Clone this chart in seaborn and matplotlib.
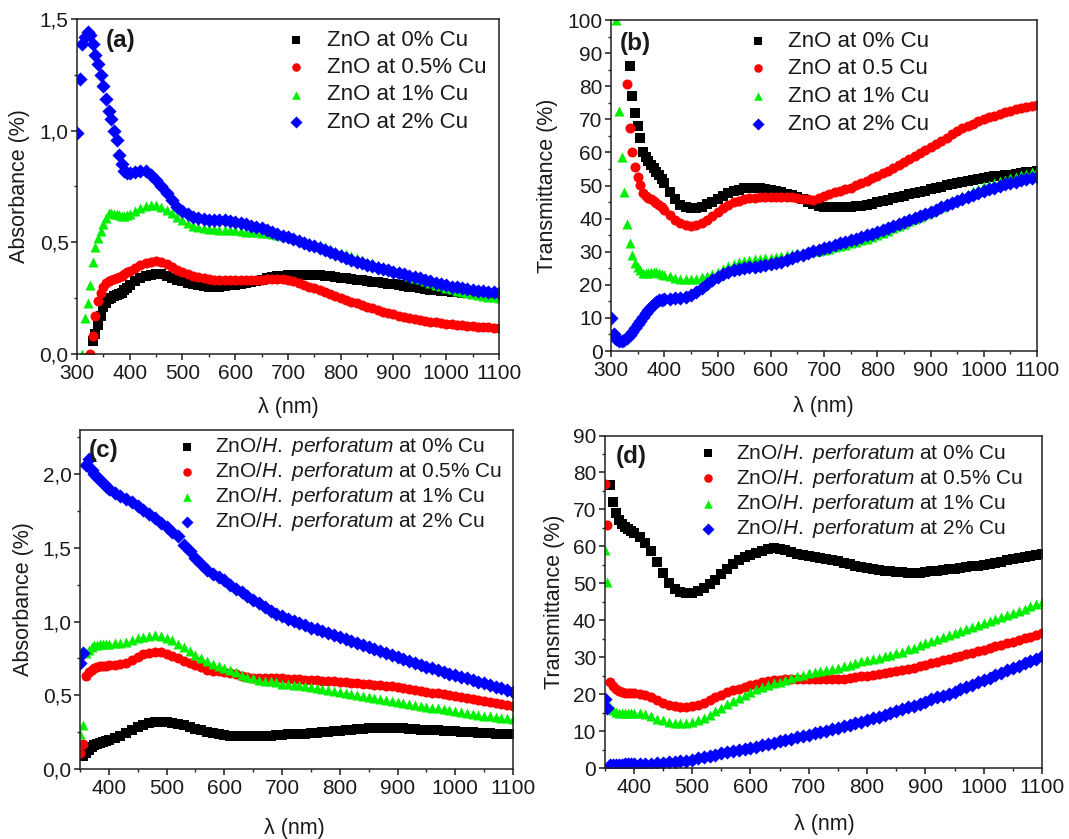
import numpy as np
import pandas as pd
import matplotlib
matplotlib.use("Agg")
import matplotlib.pyplot as plt
from matplotlib.ticker import MultipleLocator, FuncFormatter
import seaborn as sns

sns.set_theme(style="ticks")
plt.rcParams['font.family'] = ['Liberation Sans', 'DejaVu Sans']
plt.rcParams['mathtext.fontset'] = 'custom'
plt.rcParams['mathtext.rm'] = 'Liberation Sans'
plt.rcParams['mathtext.it'] = 'Liberation Sans:italic'

nan = np.nan

# -------------------------------
# Wavelength grids (nm)
# -------------------------------
wl_ab = list(range(300, 401, 5)) + list(range(410, 1101, 10))
wl_cd = list(range(350, 401, 5)) + list(range(410, 1101, 10))

# -------------------------------
# (a) Absorbance, ZnO
# -------------------------------
abs_a_0 = [nan, nan, nan, nan, nan, nan, 0.06, 0.09, 0.13, 0.17, 0.21, 0.23, 0.245, 0.252, 0.258, 0.263, 0.268, 0.275, 0.285, 0.297, 0.308,
           0.325, 0.338, 0.348, 0.355, 0.358, 0.356, 0.35, 0.342, 0.333, 0.325,
           0.318, 0.312, 0.307, 0.304, 0.302, 0.301, 0.302, 0.304, 0.307, 0.31,
           0.314, 0.318, 0.323, 0.328, 0.333, 0.338, 0.343, 0.347, 0.35, 0.352,
           0.353, 0.354, 0.354, 0.354, 0.353, 0.352, 0.35, 0.348, 0.345, 0.342,
           0.339, 0.336, 0.333, 0.33, 0.327, 0.324, 0.321, 0.318, 0.315, 0.312,
           0.309, 0.306, 0.302, 0.298, 0.294, 0.291, 0.288, 0.285, 0.282, 0.28,
           0.278, 0.276, 0.274, 0.272, 0.27, 0.268, 0.266, 0.265, 0.263, 0.262]
abs_a_05 = [nan, nan, nan, nan, nan, 0.0, 0.08, 0.17, 0.235, 0.275, 0.30, 0.318, 0.328, 0.333, 0.336, 0.34, 0.344, 0.349, 0.356, 0.365, 0.373,
            0.385, 0.397, 0.407, 0.414, 0.416, 0.412, 0.404, 0.39, 0.377, 0.366,
            0.357, 0.35, 0.344, 0.34, 0.336, 0.333, 0.331, 0.33, 0.33, 0.33,
            0.33, 0.33, 0.331, 0.332, 0.333, 0.334, 0.335, 0.337, 0.337, 0.333,
            0.326, 0.318, 0.31, 0.302, 0.294, 0.285, 0.276, 0.267, 0.258, 0.25,
            0.242, 0.234, 0.226, 0.218, 0.211, 0.204, 0.197, 0.19, 0.184, 0.178,
            0.172, 0.167, 0.162, 0.157, 0.153, 0.149, 0.145, 0.142, 0.139, 0.136,
            0.133, 0.131, 0.129, 0.127, 0.125, 0.123, 0.121, 0.119, 0.117, 0.115]
abs_a_1 = [nan, nan, 0.0, 0.16, 0.23, 0.31, 0.41, 0.48, 0.52, 0.55, 0.58, 0.61, 0.632, 0.63, 0.627, 0.625, 0.622, 0.62, 0.62, 0.622, 0.628,
           0.64, 0.652, 0.663, 0.668, 0.668, 0.658, 0.645, 0.63, 0.615, 0.60,
           0.585, 0.575, 0.568, 0.562, 0.56, 0.558, 0.557, 0.556, 0.555, 0.553,
           0.55, 0.548, 0.546, 0.544, 0.542, 0.54, 0.537, 0.534, 0.53, 0.527,
           0.521, 0.514, 0.507, 0.5, 0.493, 0.486, 0.478, 0.47, 0.462, 0.454,
           0.446, 0.438, 0.43, 0.422, 0.414, 0.406, 0.398, 0.39, 0.382, 0.374,
           0.366, 0.358, 0.35, 0.342, 0.334, 0.326, 0.318, 0.31, 0.303, 0.296,
           0.29, 0.284, 0.278, 0.273, 0.268, 0.264, 0.26, 0.257, 0.254, 0.252]
abs_a_2 = [0.99, 1.23, 1.39, 1.42, 1.44, 1.43, 1.39, 1.34, 1.30, 1.25, 1.20, 1.14, 1.09, 1.05, 1.00, 0.96, 0.89, 0.85, 0.82, 0.81, 0.81,
           0.815, 0.82, 0.82, 0.80, 0.78, 0.75, 0.72, 0.69, 0.66, 0.64,
           0.625, 0.615, 0.607, 0.603, 0.60, 0.60, 0.60, 0.598, 0.595, 0.59,
           0.585, 0.58, 0.575, 0.57, 0.563, 0.555, 0.547, 0.538, 0.53, 0.523,
           0.515, 0.507, 0.498, 0.49, 0.482, 0.473, 0.464, 0.455, 0.446, 0.437,
           0.43, 0.422, 0.414, 0.407, 0.40, 0.393, 0.386, 0.38, 0.374, 0.368,
           0.362, 0.356, 0.35, 0.344, 0.338, 0.332, 0.326, 0.32, 0.313, 0.307,
           0.302, 0.298, 0.294, 0.29, 0.287, 0.284, 0.281, 0.278, 0.276, 0.274]

# -------------------------------
# (b) Transmittance, ZnO
# -------------------------------
tr_b_0 = [nan, nan, nan, nan, nan, nan, nan, 86, 77, 72, 68, 64.5, 60, 58.5, 57.3, 56.3, 55.2, 54.2, 53.2, 52, 50.7,
          48.1, 45.8, 44.2, 43.5, 43.2, 43.3, 43.6, 44.3, 45.1, 46,
          46.8, 47.6, 48.3, 48.8, 49.2, 49.4, 49.4, 49.2, 48.9, 48.6,
          48.3, 48, 47.5, 47, 46.4, 45.8, 45.1, 44.4, 43.9, 43.6,
          43.5, 43.4, 43.4, 43.4, 43.5, 43.7, 43.9, 44.2, 44.5, 44.9,
          45.3, 45.7, 46.1, 46.5, 46.9, 47.3, 47.7, 48.1, 48.5, 48.9,
          49.3, 49.7, 50.1, 50.5, 50.9, 51.2, 51.5, 51.8, 52.1, 52.4,
          52.6, 52.8, 53, 53.1, 53.3, 53.5, 53.8, 54, 54.2, 54.5]
tr_b_05 = [nan, nan, nan, nan, nan, nan, 80.6, 67.3, 60.2, 55.5, 52.5, 50.2, 47.6, 46.9, 46.3, 45.8, 45.4, 44.8, 44.1, 43.4, 42.7,
           41, 39.7, 38.6, 38, 37.8, 38, 38.6, 39.5, 40.8, 42,
           43.2, 44.2, 45, 45.4, 45.8, 46.1, 46.3, 46.5, 46.6, 46.6,
           46.6, 46.5, 46.5, 46.4, 46.3, 46, 45.8, 45.6, 46.2, 46.9,
           47.4, 47.9, 48.4, 48.9, 49.4, 50.1, 50.8, 51.5, 52.2, 52.9,
           53.7, 54.5, 55.3, 56.1, 57, 57.9, 58.8, 59.7, 60.6, 61.5,
           62.5, 63.5, 64.5, 65.5, 66.5, 67.3, 68, 68.7, 69.4, 70,
           70.6, 71.1, 71.6, 72.1, 72.6, 73, 73.4, 73.8, 74.1, 74.4]
tr_b_1 = [nan, nan, 100, 72.5, 58.7, 48.1, 38.3, 32.5, 29, 26.5, 25.3, 24.4, 23.7, 23.5, 23.6, 23.8, 24, 24, 23.7, 23.3, 23,
          22.6, 22.2, 21.9, 21.8, 21.8, 21.9, 22.3, 22.8, 23.4, 24,
          24.8, 25.7, 26.4, 26.9, 27.2, 27.5, 27.7, 27.9, 28.1, 28.2,
          28.4, 28.7, 29, 29.2, 29.5, 29.7, 29.9, 30.1, 30.3, 30.5,
          30.9, 31.3, 31.7, 32.1, 32.5, 33, 33.5, 34, 34.5, 35,
          35.7, 36.4, 37.1, 37.8, 38.5, 39.2, 39.9, 40.6, 41.3, 42,
          42.8, 43.6, 44.4, 45.2, 46, 46.8, 47.5, 48.3, 49, 49.8,
          50.3, 50.8, 51.3, 51.8, 52.2, 52.7, 53.2, 53.6, 54, 54.4]
tr_b_2 = [9.9, 5.0, 3.5, 3.0, 3.1, 3.4, 4.0, 4.8, 5.9, 7.0, 8.1, 9.2, 10.4, 11.5, 12.5, 13.4, 14.2, 14.9, 15.3, 15.5, 15.6,
          15.8, 15.9, 16.0, 16.2, 16.8, 17.8, 19, 20.2, 21.4, 22.4,
          23.3, 24, 24.5, 24.8, 25.1, 25.3, 25.5, 25.7, 25.9, 26.2,
          26.6, 27, 27.5, 28, 28.6, 29.1, 29.6, 30.1, 30.6, 31,
          31.5, 32, 32.5, 33, 33.5, 34, 34.5, 35, 35.5, 36,
          36.6, 37.2, 37.8, 38.4, 39, 39.6, 40.2, 40.8, 41.4, 42,
          42.7, 43.4, 44.1, 44.8, 45.4, 46, 46.6, 47.2, 47.8, 48.4,
          48.9, 49.4, 49.9, 50.4, 50.8, 51.2, 51.6, 52, 52.3, 52.6]

# -------------------------------
# (c) Absorbance, ZnO/H. perforatum
# -------------------------------
abs_c_0 = [nan, 0.09, 0.11, 0.13, 0.15, 0.16, 0.17, 0.178, 0.186, 0.193, 0.198,
           0.212, 0.226, 0.245, 0.265, 0.285, 0.3, 0.312, 0.318, 0.321, 0.32,
           0.314, 0.306, 0.296, 0.285, 0.273, 0.262, 0.254, 0.246, 0.238, 0.232,
           0.227, 0.224, 0.222, 0.221, 0.221, 0.222, 0.224, 0.227, 0.23, 0.233,
           0.235, 0.237, 0.239, 0.241, 0.243, 0.247, 0.251, 0.254, 0.258, 0.261,
           0.264, 0.268, 0.271, 0.274, 0.277, 0.278, 0.279, 0.279, 0.278, 0.277,
           0.275, 0.273, 0.271, 0.268, 0.266, 0.264, 0.262, 0.26, 0.257, 0.255,
           0.253, 0.25, 0.248, 0.246, 0.243, 0.242, 0.241, 0.24, 0.239, 0.238]
abs_c_05 = [0.11, 0.17, 0.63, 0.655, 0.675, 0.688, 0.694, 0.697, 0.7, 0.702, 0.704,
            0.705, 0.712, 0.722, 0.74, 0.76, 0.78, 0.79, 0.796, 0.792, 0.78,
            0.765, 0.75, 0.735, 0.72, 0.705, 0.69, 0.675, 0.668, 0.663, 0.66,
            0.652, 0.643, 0.633, 0.624, 0.617, 0.615, 0.615, 0.615, 0.615, 0.615,
            0.613, 0.611, 0.609, 0.606, 0.604, 0.601, 0.598, 0.596, 0.594, 0.592,
            0.589, 0.586, 0.583, 0.58, 0.577, 0.573, 0.569, 0.566, 0.562, 0.558,
            0.551, 0.544, 0.538, 0.531, 0.525, 0.519, 0.513, 0.507, 0.501, 0.495,
            0.488, 0.482, 0.475, 0.469, 0.462, 0.455, 0.449, 0.442, 0.435, 0.428]
abs_c_1 = [0.24, 0.30, 0.79, 0.81, 0.825, 0.838, 0.842, 0.845, 0.848, 0.85, 0.851,
           0.853, 0.856, 0.861, 0.872, 0.886, 0.897, 0.905, 0.908, 0.9, 0.89,
           0.872, 0.85, 0.825, 0.8, 0.773, 0.75, 0.73, 0.715, 0.7, 0.685,
           0.67, 0.655, 0.64, 0.627, 0.615, 0.607, 0.6, 0.594, 0.587, 0.58,
           0.576, 0.571, 0.567, 0.562, 0.558, 0.551, 0.545, 0.538, 0.532, 0.525,
           0.518, 0.511, 0.505, 0.498, 0.491, 0.484, 0.477, 0.471, 0.464, 0.457,
           0.45, 0.443, 0.437, 0.43, 0.423, 0.417, 0.411, 0.406, 0.4, 0.394,
           0.388, 0.382, 0.375, 0.369, 0.363, 0.358, 0.353, 0.348, 0.343, 0.338]
abs_c_2 = [0.72, 0.79, 2.06, 2.1, 2.03, 2.0, 1.98, 1.96, 1.94, 1.92, 1.9,
           1.87, 1.85, 1.83, 1.81, 1.785, 1.76, 1.73, 1.70, 1.67, 1.64,
           1.61, 1.58, 1.52, 1.48, 1.43, 1.39, 1.35, 1.32, 1.30, 1.28,
           1.25, 1.22, 1.2, 1.175, 1.15, 1.125, 1.1, 1.075, 1.055, 1.035,
           1.02, 1.005, 0.99, 0.975, 0.96, 0.947, 0.934, 0.921, 0.908, 0.895,
           0.882, 0.869, 0.856, 0.843, 0.83, 0.816, 0.803, 0.789, 0.775, 0.762,
           0.748, 0.735, 0.721, 0.708, 0.694, 0.683, 0.671, 0.66, 0.648, 0.637,
           0.626, 0.615, 0.603, 0.592, 0.581, 0.57, 0.559, 0.547, 0.536, 0.525]

# -------------------------------
# (d) Transmittance, ZnO/H. perforatum
# -------------------------------
tr_d_0 = [nan, nan, 76.6, 72.1, 69, 67, 66, 65.3, 64.7, 64.2, 63.7,
          62.5, 61, 58.8, 55.8, 52.8, 50.2, 48.5, 47.6, 47.3, 47.4,
          48, 48.8, 49.8, 51, 52.5, 54, 55.3, 56.3, 57, 57.6,
          58.2, 58.8, 59.3, 59.5, 59.4, 59, 58.5, 58, 57.7, 57.5,
          57.2, 56.9, 56.6, 56.3, 56, 55.6, 55.2, 54.8, 54.4, 54.1,
          53.8, 53.6, 53.4, 53.2, 53.1, 53, 52.9, 52.9, 52.9, 53,
          53.2, 53.4, 53.6, 53.8, 54, 54.2, 54.4, 54.6, 54.8, 55,
          55.3, 55.6, 55.9, 56.2, 56.5, 56.8, 57.1, 57.4, 57.6, 57.8]
tr_d_05 = [77, 65.8, 23.3, 22.2, 21.3, 20.8, 20.6, 20.4, 20.3, 20.2, 20.2,
           20.1, 19.8, 19.1, 18.3, 17.6, 17.1, 16.8, 16.6, 16.6, 16.8,
           17.1, 17.6, 18.4, 19.2, 19.9, 20.5, 21, 21.5, 22, 22.4,
           22.8, 23.2, 23.5, 23.7, 23.9, 24, 24, 24, 24, 24,
           24, 24, 24, 24, 24.1, 24.2, 24.4, 24.6, 24.8, 25,
           25.2, 25.4, 25.7, 25.9, 26.2, 26.5, 26.9, 27.2, 27.6, 28,
           28.4, 28.8, 29.2, 29.6, 30, 30.4, 30.8, 31.2, 31.6, 32,
           32.4, 32.9, 33.3, 33.8, 34.2, 34.7, 35.2, 35.6, 36.1, 36.6]
tr_d_1 = [59, 50.4, 16.5, 15.8, 15.2, 14.9, 14.8, 14.8, 14.8, 14.8, 14.8,
          14.8, 14.6, 14.1, 13.4, 12.9, 12.5, 12.3, 12.3, 12.3, 12.5,
          12.9, 13.6, 14.4, 15.3, 16.2, 17.2, 18.1, 19, 19.9, 20.7,
          21.3, 21.9, 22.4, 22.9, 23.4, 23.9, 24.4, 24.9, 25.3, 25.7,
          26, 26.3, 26.5, 26.8, 27.1, 27.5, 28, 28.5, 28.9, 29.3,
          29.6, 29.9, 30.3, 30.6, 31, 31.5, 32.1, 32.6, 33.2, 33.8,
          34.3, 34.9, 35.4, 36, 36.5, 37, 37.6, 38.1, 38.7, 39.2,
          39.7, 40.3, 40.8, 41.4, 41.9, 42.5, 43.1, 43.8, 44.4, 45]
tr_d_2 = [18.8, 16.2, 0.8, 0.85, 0.9, 0.92, 0.95, 0.97, 1.0, 1.02, 1.05,
          1.1, 1.15, 1.2, 1.3, 1.4, 1.5, 1.65, 1.8, 2.0, 2.3,
          2.6, 2.95, 3.3, 3.65, 4.0, 4.3, 4.6, 4.9, 5.15, 5.4,
          5.75, 6.1, 6.5, 6.85, 7.2, 7.55, 7.9, 8.3, 8.65, 9.0,
          9.35, 9.7, 10.1, 10.45, 10.8, 11.25, 11.7, 12.1, 12.55, 13,
          13.45, 13.9, 14.4, 14.85, 15.3, 15.85, 16.4, 16.9, 17.45, 18,
          18.55, 19.1, 19.6, 20.15, 20.7, 21.35, 21.95, 22.6, 23.25, 23.9,
          24.5, 25.1, 25.8, 26.4, 27, 27.6, 28.3, 28.9, 29.6, 30.2]

labels_a = ["ZnO at 0% Cu", "ZnO at 0.5% Cu", "ZnO at 1% Cu", "ZnO at 2% Cu"]
labels_b = ["ZnO at 0% Cu", "ZnO at 0.5 Cu", "ZnO at 1% Cu", "ZnO at 2% Cu"]
hp = r"ZnO/$\mathit{H.\ perforatum}$"
labels_cd = [hp + " at 0% Cu", hp + " at 0.5% Cu", hp + " at 1% Cu", hp + " at 2% Cu"]

colors = ["#000000", "#ff0000", "#00f000", "#0000ff"]
markers = ["s", "o", "^", "D"]


def comma(v, pos):
    return f"{v:.1f}".replace(".", ",")


panels = [
    dict(rect=[0.0720, 0.5781, 0.3948, 0.3993], wl=wl_ab, ys=[abs_a_0, abs_a_05, abs_a_1, abs_a_2],
         labels=labels_a, xlim=(300, 1100), xticks=range(300, 1101, 100), ylim=(0, 1.5), ymaj=0.5, ymin=0.25,
         fmt=FuncFormatter(comma), ylabel="Absorbance (%)", letter="(a)", lpos=(0.103, 0.935),
         leg=(0.493, 0.967), lfs=16, htp=0.9, lsp=0.28, ylc=(-0.135, 0.5), xlc=(0.5, -0.161)),
    dict(rect=[0.5716, 0.5816, 0.3985, 0.3945], wl=wl_ab, ys=[tr_b_0, tr_b_05, tr_b_1, tr_b_2],
         labels=labels_b, xlim=(300, 1100), xticks=range(300, 1101, 100), ylim=(0, 100), ymaj=10, ymin=5,
         fmt=None, ylabel="Transmittance (%)", letter="(b)", lpos=(0.056, 0.93),
         leg=(0.318, 0.968), lfs=16, htp=0.85, lsp=0.3, ylc=(-0.148, 0.5), xlc=(0.498, -0.169)),
    dict(rect=[0.0748, 0.0834, 0.4051, 0.4041], wl=wl_cd, ys=[abs_c_0, abs_c_05, abs_c_1, abs_c_2],
         labels=labels_cd, xlim=(350, 1100), xticks=range(400, 1101, 100), ylim=(0, 2.3), ymaj=0.5, ymin=0.25,
         fmt=FuncFormatter(comma), ylabel="Absorbance (%)", letter="(c)", lpos=(0.054, 0.939),
         leg=(0.222, 0.985), lfs=15, htp=0.85, lsp=0.1, ylc=(-0.13, 0.5), xlc=(0.494, -0.174)),
    dict(rect=[0.5655, 0.0846, 0.4093, 0.3963], wl=wl_cd, ys=[tr_d_0, tr_d_05, tr_d_1, tr_d_2],
         labels=labels_cd, xlim=(350, 1100), xticks=range(400, 1101, 100), ylim=(0, 90), ymaj=10, ymin=5,
         fmt=None, ylabel="Transmittance (%)", letter="(d)", lpos=(0.061, 0.936),
         leg=(0.212, 0.981), lfs=15, htp=0.85, lsp=0.1, ylc=(-0.115, 0.5), xlc=(0.502, -0.171)),
]

fig = plt.figure(figsize=(10.69, 8.39), dpi=100)

for p in panels:
    ax = fig.add_axes(p["rect"])
    for ys in p["ys"]:
        assert len(ys) == len(p["wl"])
    for y, lab, col, mk in zip(p["ys"], p["labels"], colors, markers):
        df = pd.DataFrame({"wl": p["wl"], "v": y}).dropna()
        sns.scatterplot(data=df, x="wl", y="v", marker=mk, color=col, s=52,
                        linewidth=0, label=lab, ax=ax, legend=False)
    ax.set_xlim(*p["xlim"])
    ax.set_ylim(*p["ylim"])
    ax.set_xticks(list(p["xticks"]))
    ax.xaxis.set_minor_locator(MultipleLocator(50))
    ax.yaxis.set_major_locator(MultipleLocator(p["ymaj"]))
    ax.yaxis.set_minor_locator(MultipleLocator(p["ymin"]))
    if p["fmt"] is not None:
        ax.yaxis.set_major_formatter(p["fmt"])
    ax.tick_params(which="major", direction="out", length=4.5, width=1.1, labelsize=15,
                   colors="#1a1a1a", top=False, right=False)
    ax.tick_params(axis="x", which="major", pad=2.5)
    ax.tick_params(axis="y", which="major", pad=1.5)
    ax.tick_params(which="minor", direction="out", length=2.5, width=1.0, top=False, right=False)
    for sp in ax.spines.values():
        sp.set_linewidth(1.1)
        sp.set_color("#222222")
    ax.set_xlabel("λ (nm)", fontsize=15.5, color="#1a1a1a")
    ax.set_ylabel(p["ylabel"], fontsize=15.5, color="#1a1a1a")
    ax.xaxis.label.set_va("center")
    ax.yaxis.label.set_va("center")
    ax.yaxis.label.set_rotation_mode("anchor")
    ax.xaxis.set_label_coords(*p["xlc"])
    ax.yaxis.set_label_coords(*p["ylc"])
    ax.text(p["lpos"][0], p["lpos"][1], p["letter"], transform=ax.transAxes,
            fontsize=17.5, fontweight="bold", ha="center", va="center", color="#1a1a1a")
    leg = ax.legend(loc="upper left", bbox_to_anchor=p["leg"], frameon=False,
                    fontsize=p["lfs"], handlelength=1.0, handletextpad=p["htp"],
                    labelspacing=p["lsp"], borderpad=0, borderaxespad=0, scatterpoints=1,
                    markerscale=0.85)
    for t in leg.get_texts():
        t.set_color("#1a1a1a")

fig.savefig("out.png", dpi=100)
